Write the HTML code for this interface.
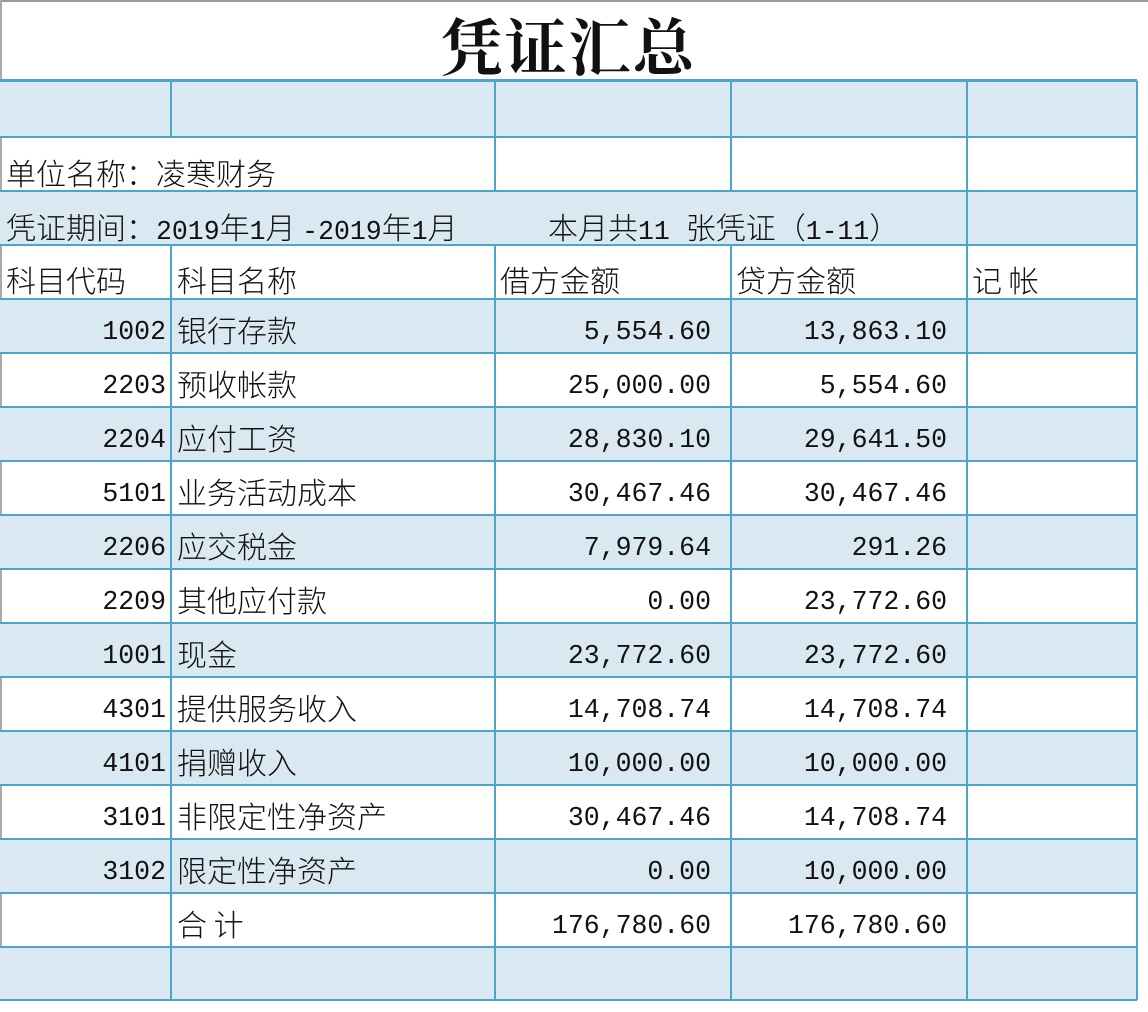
<!DOCTYPE html>
<html><head><meta charset="utf-8"><style>
body{margin:0;width:1148px;height:1012px;background:#fff;position:relative;overflow:hidden;font-family:"Noto Sans CJK SC","WenQuanYi Zen Hei",sans-serif;color:#111}
.r{position:absolute;left:0;width:1137px}
.b{background:#dae9f1}
.h{position:absolute;left:0;width:1137px;height:2px;background:#4ba6c9}
.v{position:absolute;width:2px;background:#4ba6c9}
.t{position:absolute;font-size:30px;line-height:34px;white-space:nowrap;font-weight:300}
.n{font-family:"Liberation Mono",monospace;font-size:26.5px}
.rt{text-align:right}
</style></head><body>
<div style="position:absolute;left:0;top:0;width:1148px;height:2px;background:#999"></div>
<div style="position:absolute;left:0;top:0;width:2px;height:1000px;background:#aaa"></div>
<div style="position:absolute;left:0;top:6px;width:1137px;text-align:center;font-family:'Noto Serif CJK SC',serif;font-weight:700;font-size:62px;line-height:76px;letter-spacing:2px">凭证汇总</div>

<div class="r b" style="top:81px;height:56px"></div>
<div class="r b" style="top:191px;height:54px;width:967px"></div>
<div class="r b" style="top:191px;height:54px;left:967px;width:170px"></div>
<div class="r b" style="top:299px;height:54px"></div>
<div class="r b" style="top:407px;height:54px"></div>
<div class="r b" style="top:515px;height:54px"></div>
<div class="r b" style="top:623px;height:54px"></div>
<div class="r b" style="top:731px;height:54px"></div>
<div class="r b" style="top:839px;height:54px"></div>
<div class="r b" style="top:947px;height:53px"></div>

<div class="h" style="top:79px;height:3px"></div>
<div class="h" style="top:136px"></div>
<div class="h" style="top:190px"></div>
<div class="h" style="top:244px"></div>
<div class="h" style="top:298px"></div>
<div class="h" style="top:352px"></div>
<div class="h" style="top:406px"></div>
<div class="h" style="top:460px"></div>
<div class="h" style="top:514px"></div>
<div class="h" style="top:568px"></div>
<div class="h" style="top:622px"></div>
<div class="h" style="top:676px"></div>
<div class="h" style="top:730px"></div>
<div class="h" style="top:784px"></div>
<div class="h" style="top:838px"></div>
<div class="h" style="top:892px"></div>
<div class="h" style="top:946px"></div>
<div class="h" style="top:999px"></div>

<div class="v" style="left:170px;top:81px;height:56px"></div>
<div class="v" style="left:170px;top:245px;height:755px"></div>
<div class="v" style="left:494px;top:81px;height:110px"></div>
<div class="v" style="left:494px;top:245px;height:755px"></div>
<div class="v" style="left:730px;top:81px;height:110px"></div>
<div class="v" style="left:730px;top:245px;height:755px"></div>
<div class="v" style="left:966px;top:81px;height:919px"></div>
<div class="v" style="left:1136px;top:81px;height:919px"></div>

<div class="t" style="left:6px;top:155px">单位名称：凌寒财务</div>
<div class="t" style="left:6px;top:209px">凭证期间：<span class="n">2019</span>年<span class="n">1</span>月 <span class="n">-2019</span>年<span class="n">1</span>月</div>
<div class="t" style="left:548px;top:209px">本月共<span class="n">11 </span>张凭证（<span class="n">1-11</span>）</div>
<div class="t" style="left:6px;top:262px">科目代码</div>
<div class="t" style="left:177px;top:262px">科目名称</div>
<div class="t" style="left:500px;top:262px">借方金额</div>
<div class="t" style="left:736px;top:262px">贷方金额</div>
<div class="t" style="left:972px;top:262px">记 帐</div>

<div id="rows"></div>
<script>
var d=[["1002","银行存款","5,554.60","13,863.10"],["2203","预收帐款","25,000.00","5,554.60"],["2204","应付工资","28,830.10","29,641.50"],["5101","业务活动成本","30,467.46","30,467.46"],["2206","应交税金","7,979.64","291.26"],["2209","其他应付款","0.00","23,772.60"],["1001","现金","23,772.60","23,772.60"],["4301","提供服务收入","14,708.74","14,708.74"],["4101","捐赠收入","10,000.00","10,000.00"],["3101","非限定性净资产","30,467.46","14,708.74"],["3102","限定性净资产","0.00","10,000.00"],["","合 计","176,780.60","176,780.60"]];
var h="";
d.forEach(function(r,i){var y=315+54*i,z=312+54*i;
h+='<div class="t n rt" style="left:0;width:166px;top:'+y+'px">'+r[0]+'</div>';
h+='<div class="t" style="left:177px;top:'+z+'px">'+r[1]+'</div>';
h+='<div class="t n rt" style="left:495px;width:216px;top:'+y+'px">'+r[2]+'</div>';
h+='<div class="t n rt" style="left:731px;width:216px;top:'+y+'px">'+r[3]+'</div>';});
document.getElementById("rows").innerHTML=h;
</script>
</body></html>
